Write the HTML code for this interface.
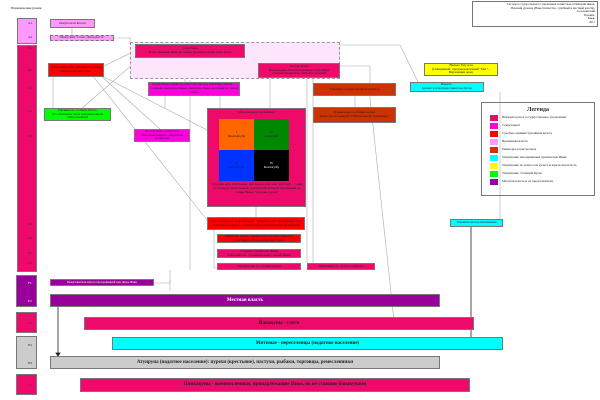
<!DOCTYPE html>
<html><head><meta charset="utf-8"><style>
body{margin:0;width:600px;height:400px;background:#fff;position:relative;overflow:hidden;font-family:"Liberation Serif","DejaVu Serif",serif;}
.b{position:absolute;box-sizing:border-box;border:1px solid #777;font-size:3.4px;line-height:3.8px;text-align:center;display:flex;align-items:center;justify-content:center;color:#222;overflow:hidden}
.p{background:#ee0a6a}.m{background:#ff00dd}.r{background:#ff0000}.lp{background:#ff99ff}.br{background:#cc3300}.c{background:#00ffff}.y{background:#ffff00}.g{background:#00ff00}.v{background:#990099;color:#fff}.gr{background:#cccccc}
.big{font-size:5px;font-weight:bold}
.t{position:absolute;font-size:3.4px;line-height:4px}
.l{position:absolute;left:28px;font-size:3.5px;color:#333}
svg{position:absolute;left:0;top:0}
</style></head><body>
<svg width="600" height="400">
<g stroke="#aaa" stroke-width="0.6" fill="none">
<path d="M114 38 H130 V44"/><path d="M72 28 V35"/>
<path d="M135 51 L104 66"/><path d="M190 80 V270"/><path d="M185 58 V82"/>
<path d="M165 96 V108"/><path d="M220 96 V108"/><path d="M53 77 V108"/><path d="M140 58 L80 110"/>
<path d="M100 75 L160 129"/><path d="M92 75 L207 220"/><path d="M104 77 L207 130"/>
<path d="M270 79 V108"/><path d="M340 45 H400 L418 82"/><path d="M340 66 H370 V98 L395 330"/>
<path d="M313 60 V265"/><path d="M256 207 V217"/><path d="M214 230 V268 H217"/><path d="M355 96 V107"/>
<path d="M170 280 V291"/><path d="M134 283 H170 V270"/><path d="M307 66 V263"/>
<path d="M500 92 V219"/>
</g>
<g stroke="#222" stroke-width="0.8" fill="#222">
<path d="M471 227 V346" fill="none"/><path d="M469 344 L471 347 L473 344Z"/>
<path d="M58 307 V355" fill="none"/><path d="M56 353 L58 356 L60 353Z"/>
</g>
</svg>
<div class="t" style="left:8px;top:6px;width:36px;text-align:center;font-size:3px">Управленческие уровни</div>
<div class="b lp" style="left:17px;top:18px;width:20px;height:26px"></div>
<div class="b p" style="left:17px;top:45px;width:20px;height:227px"></div>
<div class="b v" style="left:16px;top:275px;width:21px;height:32px"></div>
<div class="b p" style="left:16px;top:312px;width:21px;height:21px"></div>
<div class="b gr" style="left:16px;top:336px;width:21px;height:33px"></div>
<div class="b p" style="left:16px;top:374px;width:21px;height:21px"></div>
<div class="l" style="top:21px">A1</div><div class="l" style="top:35px">A2</div>
<div class="l" style="top:46px">B1</div><div class="l" style="top:68px">B2</div>
<div class="l" style="top:86px">C1</div><div class="l" style="top:109px">C2</div><div class="l" style="top:134px">C3</div>
<div class="l" style="top:222px">D1</div><div class="l" style="top:236px">D2</div>
<div class="l" style="top:251px">E1</div><div class="l" style="top:261px">E3</div>
<div class="l" style="top:281px;color:#fff">F1</div><div class="l" style="top:299px;color:#fff">F2</div>
<div class="l" style="top:321px">G1</div><div class="l" style="top:343px">H1</div><div class="l" style="top:361px">H2</div>
<div class="l" style="top:383px;left:30px">I</div>

<div class="b" style="left:472px;top:1px;width:126px;height:26px;display:block;text-align:right;padding:1px 2px;font-size:3px;line-height:3.5px">Система государственного управления хозяйством в Империи инков.<br>Верхний уровень (Наместничество, судебный и местный власти).<br>А.Скоринский<br>Украина,<br>Киев,<br>2011</div>

<div class="b lp" style="left:50px;top:19px;width:45px;height:9px">Оккупа или Регент</div>
<div class="b lp" style="left:50px;top:35px;width:64px;height:6px;border-style:dashed">Окакуский "Совет Дисиадатта"</div>
<div class="b" style="left:130px;top:42px;width:210px;height:37px;background:#fde6fb;border:1px dashed #999"></div>
<div class="b p" style="left:135px;top:44px;width:110px;height:14px">Сапа Инка<br>Божественный Инка из семьи, формирующий свою знать</div>
<div class="b r" style="left:48px;top:63px;width:56px;height:14px">"Тахуантинсуйу" (Четырехкратное)<br>Императорский совет</div>
<div class="b p" style="left:258px;top:63px;width:82px;height:15px">Кастер Илья<br>Виле-нормы, или назначаемые Сапа Инка<br>главный правитель, святой и знатный</div>
<div class="b m" style="left:148px;top:82px;width:92px;height:14px">Тукуй-Рикук (шпион), или Учу Кастер, или Инка Капак — главный секретарь Инки, секретарь Инки, который из семьи Инки</div>
<div class="b g" style="left:44px;top:108px;width:67px;height:13px">Управитель столицы Куско.<br>Его назначить была положительная общественной</div>
<div class="b m" style="left:134px;top:129px;width:56px;height:13px">Кастан инка-аманк или Инкалканапампа - секретари хозяйства</div>
<div class="b p" style="left:207px;top:108px;width:99px;height:99px;display:block;padding-top:2px">"Обязательные провинции"
<div style="position:absolute;left:11px;top:10px;width:35px;height:31px;background:#ff6600;display:flex;align-items:center;justify-content:center">I<br>Чинчайсуйу</div>
<div style="position:absolute;left:46px;top:10px;width:35px;height:31px;background:#008800;display:flex;align-items:center;justify-content:center">III<br>Антисуйу</div>
<div style="position:absolute;left:11px;top:41px;width:35px;height:31px;background:#0033ff;display:flex;align-items:center;justify-content:center">II<br>Кунтисуйу</div>
<div style="position:absolute;left:46px;top:41px;width:35px;height:31px;background:#000;color:#fff;display:flex;align-items:center;justify-content:center">IV<br>Колласуйу</div>
<div style="position:absolute;left:3px;top:74px;width:92px">Суйуйок Апу, или Капак, или Капак Апу, или Апусуйу — один из четырех наместников, правителей четырех провинций, из семьи Инки, "знатные уроки"</div>
</div>
<div class="b br" style="left:313px;top:83px;width:83px;height:13px">Главный государственный ревизор</div>
<div class="b br" style="left:313px;top:107px;width:83px;height:16px">И ревизоры по общим делам.<br>Ревизоры по каждой "Обязательной провинции"</div>
<div class="b y" style="left:424px;top:63px;width:74px;height:13px">Вилька Уму или<br>(Священный, предсказывающий "Маг" - Верховный жрец</div>
<div class="b c" style="left:410px;top:82px;width:74px;height:10px">Инкапа -<br>министр или представитель Двора</div>
<div class="b" style="left:481px;top:102px;width:114px;height:94px;display:block;text-align:left">
<div style="text-align:center;font-size:6px;font-weight:bold;margin-top:3px;line-height:8px">Легенда</div>
<div style="position:relative;height:70px">
<div style="position:absolute;left:8px;top:1px;width:8px;height:6px" class="p"></div><div style="position:absolute;left:20px;top:2px">Императорское государственное управление</div>
<div style="position:absolute;left:8px;top:9px;width:8px;height:6px" class="m"></div><div style="position:absolute;left:20px;top:10px">Секретариат</div>
<div style="position:absolute;left:8px;top:17px;width:8px;height:6px" class="r"></div><div style="position:absolute;left:20px;top:18px">Судебно-административная власть</div>
<div style="position:absolute;left:8px;top:25px;width:8px;height:6px" class="lp"></div><div style="position:absolute;left:20px;top:26px">Временная власть</div>
<div style="position:absolute;left:8px;top:33px;width:8px;height:6px" class="br"></div><div style="position:absolute;left:20px;top:34px">Ревизоры и контролеры</div>
<div style="position:absolute;left:8px;top:41px;width:8px;height:6px" class="c"></div><div style="position:absolute;left:20px;top:42px">Управление неподвижным правителем Инки</div>
<div style="position:absolute;left:8px;top:49px;width:8px;height:6px" class="y"></div><div style="position:absolute;left:20px;top:50px">Управление по вопросам культа и жреческая власть</div>
<div style="position:absolute;left:8px;top:57px;width:8px;height:6px" class="g"></div><div style="position:absolute;left:20px;top:58px">Управление столицей Куско</div>
<div style="position:absolute;left:8px;top:65px;width:8px;height:6px" class="v"></div><div style="position:absolute;left:20px;top:66px">Местная власть и ее представители</div>
</div></div>
<div class="b c" style="left:450px;top:219px;width:53px;height:8px">Управители над митимаями</div>
<div class="b r" style="left:207px;top:217px;width:98px;height:13px">Суды окружного и провинций - Тукрикук или Тукуйрикук "Тот, который все видит", наместники и руководители провинций</div>
<div class="b r" style="left:217px;top:234px;width:84px;height:9px">Митимаи, айлью, правители сел, или старосты, советники, губернаторы или главы</div>
<div class="b p" style="left:217px;top:249px;width:84px;height:9px">Старшие служители Инки.<br>Завхозяйства, сборщики дани с полей Инки</div>
<div class="b p" style="left:217px;top:263px;width:84px;height:7px">Инспекторы по особым делам</div>
<div class="b p" style="left:307px;top:263px;width:68px;height:7px">Чиновники по делам хозяйства</div>
<div class="b v" style="left:50px;top:279px;width:104px;height:7px;font-size:3px">Представители или послы провинций при Дворе Инки</div>
<div class="b v big" style="left:50px;top:294px;width:390px;height:13px;color:#fff">Местная власть</div>
<div class="b p big" style="left:84px;top:317px;width:390px;height:13px">Йанакуны - слуги</div>
<div class="b c big" style="left:112px;top:337px;width:391px;height:13px">Митимае - переселенцы (податное население)</div>
<div class="b gr big" style="left:50px;top:356px;width:390px;height:13px">Атунруна (податное население): пурехи (крестьяне), пастухи, рыбаки, торговцы, ремесленники</div>
<div class="b p big" style="left:80px;top:378px;width:390px;height:14px">Пиньакуны - военнопленные, принадлежащие Инке, но не ставшие йанакунами</div>
</body></html>
